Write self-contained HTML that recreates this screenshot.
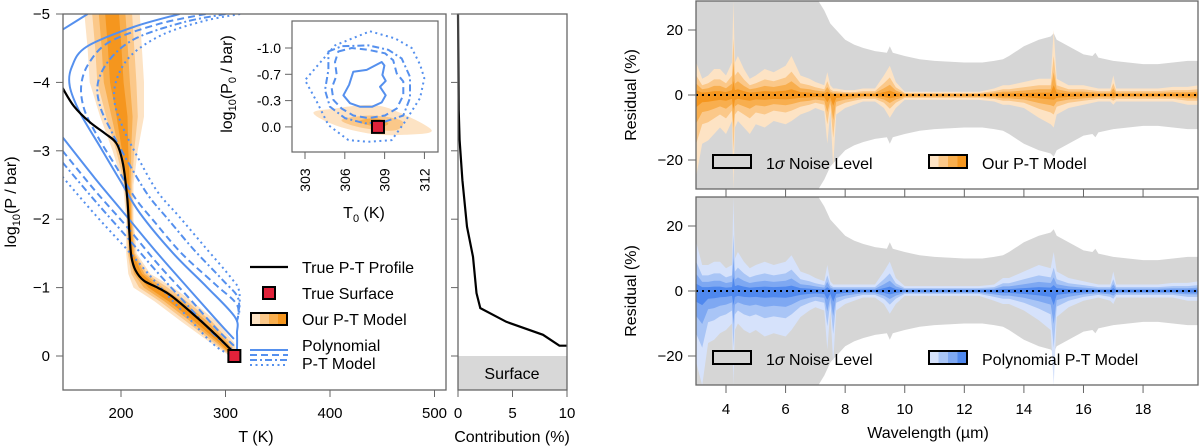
<!DOCTYPE html>
<html><head><meta charset="utf-8">
<style>
html,body{margin:0;padding:0;background:#fff;}
svg{display:block;font-family:"Liberation Sans",sans-serif;}
</style></head>
<body>
<svg id="fig" width="1200" height="448" viewBox="0 0 1200 448" xmlns="http://www.w3.org/2000/svg">
<defs>
<clipPath id="clipL"><rect x="63" y="14" width="383" height="376"/></clipPath>
<clipPath id="clipI"><rect x="292" y="21" width="146" height="131"/></clipPath>
<clipPath id="clipR1"><rect x="696" y="1" width="502" height="188"/></clipPath>
<clipPath id="clipR2"><rect x="696" y="197" width="502" height="188"/></clipPath>
</defs>
<g id="root"></g>
</svg>
<script>
// ---------- PT panel data ----------
const trueT = [144,155,170,185,196,202,206,208,210,214,222,235,248,270,290,308];
const trueP = [-3.92,-3.65,-3.42,-3.25,-3.1,-2.8,-2.3,-1.8,-1.45,-1.25,-1.1,-1.0,-0.88,-0.6,-0.32,-0.05];
const bandP  = [-5,-4.5,-4,-3.5,-3,-2.5,-2,-1.5,-1.2,-1,-0.8,-0.5,-0.2,0];
const bandLo = [165,168,170,180,192,202,205,205,207,212,232,258,285,304];
const bandHi = [218,220,222,222,216,212,212,215,228,250,268,292,308,312];
const solidC_T = [256,212,167,153,151,161,180,199,218,250,282,309,311,311];
const solidC_P = [-5,-4.81,-4.52,-4.23,-3.94,-3.55,-3.06,-2.57,-2.09,-1.5,-1.01,-0.57,-0.33,-0.1];
const dashedC_T = [281,235,190,170,162,165,178,196,214,230,258,290,311,311];
const dashedC_P = [-5,-4.85,-4.6,-4.3,-3.97,-3.6,-3.2,-2.75,-2.3,-2.0,-1.5,-1.05,-0.75,-0.5];
const dashdotC_T = [300,260,215,190,178,180,192,208,226,245,270,298,312,312];
const dashdotC_P = [-5,-4.88,-4.65,-4.35,-4.0,-3.65,-3.25,-2.8,-2.35,-2.0,-1.55,-1.1,-0.85,-0.55];
const dottedC_T = [314,280,240,210,196,194,203,218,235,255,280,305,313,313];
const dottedC_P = [-5,-4.9,-4.7,-4.4,-4.05,-3.7,-3.3,-2.85,-2.4,-2.05,-1.6,-1.15,-0.95,-0.6];
const lowT = [144,175,205,235,265,290,308];
const solidL_P = [-3.2,-2.6,-2.05,-1.5,-0.98,-0.55,-0.25];
const dashedL_P = [-3.0,-2.42,-1.9,-1.35,-0.85,-0.42,-0.15];
const dashdotL_P = [-2.83,-2.27,-1.75,-1.22,-0.72,-0.3,-0.08];
const dottedL_P = [-2.62,-2.07,-1.57,-1.05,-0.55,-0.15,0.0];
const topT = [144,168];
const topP = [-4.77,-5];
const surfT = 308.5, surfP = 0;
const ptXTicks = [200,300,400,500];
const ptYTicks = [-5,-4,-3,-2,-1,0];
// ---------- contribution ----------
const contribC = [0,0.06,0.15,0.4,0.83,1.38,1.7,2.05,4.43,7.8,9.3,10];
const contribP = [-5,-3.6,-3.16,-2.57,-1.89,-1.45,-0.92,-0.70,-0.50,-0.31,-0.15,-0.15];
const contribTicks = [0,5,10];
// ---------- inset ----------
const insXTicks = [303,306,309,312];
const insYTicks = [-1.0,-0.7,-0.3,0.0];
const insYLabels = ["-1.0","-0.7","-0.3","0.0"];
const cSolidT = [306.64,307.65,308.78,308.98,308.83,309.08,308.65,309.08,308.78,308.07,307.14,306.39,305.89,306.32];
const cSolidP = [-0.73,-0.75,-0.84,-0.80,-0.69,-0.60,-0.51,-0.38,-0.28,-0.23,-0.23,-0.27,-0.38,-0.54];
const cDashT = [305.51,306.52,307.77,309.03,309.65,309.91,310.41,310.41,309.91,309.03,307.77,306.64,305.76,305.14,305.01,305.39,305.26];
const cDashP = [-0.96,-1.0,-0.98,-0.94,-0.86,-0.71,-0.59,-0.38,-0.21,-0.13,-0.10,-0.13,-0.21,-0.31,-0.49,-0.69,-0.84];
const cDDT = [304.76,305.76,307.77,309.28,310.29,310.91,310.91,310.41,309.03,307.52,306.01,304.88,304.51,304.76];
const cDDP = [-0.96,-1.02,-1.03,-0.98,-0.88,-0.66,-0.34,-0.13,-0.06,-0.04,-0.10,-0.23,-0.46,-0.75];
const cDotT = [307.90,309.78,311.04,311.67,311.99,311.67,310.54,309.53,307.77,306.27,304.76,303.88,303.0,304.0,305.26];
const cDotP = [-1.19,-1.11,-1.0,-0.81,-0.64,-0.34,-0.06,0.15,0.17,0.15,-0.02,-0.29,-0.61,-0.81,-1.03];
const blob1T = [303.63,305.26,308.02,310.03,312.55,310.54,308.02,305.26];
const blob1P = [-0.16,-0.21,-0.25,-0.17,0.04,0.09,0.08,-0.02];
const blob2T = [305.76,308.02,310.29,309.78,307.27];
const blob2P = [-0.08,-0.13,-0.07,0.04,0.01];
const blob3T = [307.02,308.28,309.28,308.52];
const blob3P = [-0.06,-0.10,-0.04,0.0];
// ---------- residual panels ----------
const noiseW = [3.0,7.0,7.1,7.3,7.5,7.8,8.0,8.3,8.6,9.0,9.4,9.5,9.6,10.0,10.5,11,12,12.6,13.0,13.3,13.5,14.0,14.5,14.9,15.0,15.1,15.5,16.0,16.3,16.4,16.5,17,17.5,18,18.5,19,19.5,19.85];
const noiseUp = [35,35,29,26,22,19,17,15.5,14.5,13.5,13,15,13,12,11,10.5,10,10,10.5,11,12,15,17,18,19,17,15,12.5,12,13,11.5,10.5,10,9.5,9.5,10,10.5,10.5];
const resW = [3.0,3.2,3.4,3.6,3.8,4.0,4.2,4.25,4.3,4.4,4.6,4.8,5.0,5.3,5.6,6.0,6.2,6.5,6.8,7.0,7.3,7.4,7.5,7.6,7.7,8.0,8.3,8.6,9.0,9.3,9.5,9.7,10.0,10.5,11,12,12.5,13,13.3,13.5,14,14.5,14.9,15.0,15.1,15.5,16,16.5,16.9,17.0,17.1,17.5,18,18.5,19,19.5,19.85];
const ourUp = [10,5,6,8,8,6,10,29,10,12,8,5,6,8,7,9,12,6,5,4,3,7,3,2,2,1.5,1.5,2,2,6,9,4,1,1,1,1,1,2,3,3,4,5,5,20,5,3,3,2,2,6,2,2,2,2,2.5,2.5,3];
const ourDn = [-25,-15,-14,-12,-10,-12,-8,-29,-10,-8,-10,-12,-9,-10,-8,-9,-8,-6,-5,-4,-5,-15,-5,-22,-6,-4,-3,-2,-2,-4,-7,-4,-1.5,-1.5,-1.5,-1.5,-1.5,-2,-3,-3,-4,-7,-9,-10,-6,-4,-3,-2,-2,-3,-2,-2,-2,-2,-2,-3,-3];
const polyUp = [15,8,8,9,9,7,8,29,10,12,9,7,8,9,8,9,11,6,5,4,3,8,3,2,2,2,2,2,2,6,9,4,1.5,1.5,1.5,1.5,1.5,2,4,4,6,8,7,12,6,4,3,2,2,6,2,2,2,2,2.5,2.5,3];
const polyDn = [-22,-29,-16,-15,-13,-12,-10,-29,-12,-10,-12,-13,-12,-14,-13,-14,-12,-8,-6,-5,-6,-18,-6,-22,-6,-4,-3,-2,-2,-4,-7,-4,-1.5,-1.5,-1.5,-1.5,-1.5,-3,-4,-4,-6,-9,-12,-29,-8,-5,-3,-2,-3,-4,-2,-2,-2,-2,-2,-3,-3];
const wTicks = [4,6,8,10,12,14,16,18];
const rTicks = [20,0,-20];

const NS = "http://www.w3.org/2000/svg";
const root = document.getElementById("root");
function mk(tag, attrs, parent){const e=document.createElementNS(NS,tag);for(const k in attrs)e.setAttribute(k,attrs[k]);(parent||root).appendChild(e);return e;}
function txt(s, x, y, size, anchor, parent, rot){const t=mk("text",{x:x,y:y,"font-size":size,"text-anchor":anchor||"middle",fill:"#000"},parent);if(rot)t.setAttribute("transform",`rotate(${rot} ${x} ${y})`);t.textContent=s;return t;}

const xT = T => 121 + (T-200)*1.045;
const yP = p => 356 + p*68.4;
const xC = c => 458 + c*10.9;
const xI = T => 305 + (T-303)*13.27;
function yI(p){let u;if(p<=-0.7)u=(p+1)/0.3;else if(p<=-0.3)u=1+(p+0.7)/0.4;else u=2+(p+0.3)/0.3;return 48+u*26.3;}
const xW = w => 726 + (w-4)*29.79;
const yR1 = v => 95 - v*3.25;
const yR2 = v => 291 - v*3.25;
const BLUE = "#5590ee";

function pathXY(Ts,Ps,fx,fy,close){let d="";for(let i=0;i<Ts.length;i++)d+=(i?"L":"M")+fx(Ts[i]).toFixed(1)+","+fy(Ps[i]).toFixed(1);return d+(close?"Z":"");}
// Catmull-Rom smooth path
function smoothXY(Ts,Ps,fx,fy,close){
  const pts=Ts.map((t,i)=>[fx(t),fy(Ps[i])]);const n=pts.length;
  const get=i=>close?pts[(i+n)%n]:pts[Math.max(0,Math.min(n-1,i))];
  let d="M"+pts[0][0].toFixed(1)+","+pts[0][1].toFixed(1);
  const segs=close?n:n-1;
  for(let i=0;i<segs;i++){
    const p0=get(i-1),p1=get(i),p2=get(i+1),p3=get(i+2);
    const c1=[p1[0]+(p2[0]-p0[0])/6,p1[1]+(p2[1]-p0[1])/6];
    const c2=[p2[0]-(p3[0]-p1[0])/6,p2[1]-(p3[1]-p1[1])/6];
    d+=`C${c1[0].toFixed(1)},${c1[1].toFixed(1)} ${c2[0].toFixed(1)},${c2[1].toFixed(1)} ${p2[0].toFixed(1)},${p2[1].toFixed(1)}`;
  }
  return d+(close?"Z":"");
}

// ===== PT panel =====
const gL = mk("g",{"clip-path":"url(#clipL)"});


const orangeCols = ["#fde3c4","#fbc889","#f8ae4e","#f5961e"];
const fr = [1,0.72,0.48,0.25];
for(let k=0;k<4;k++){
  const lo=[],hi=[];
  for(let i=0;i<bandP.length;i++){const c=(bandLo[i]+bandHi[i])/2,h=(bandHi[i]-bandLo[i])/2;lo.push(c-h*fr[k]);hi.push(c+h*fr[k]);}
  const Ps=bandP.concat(bandP.slice().reverse());
  const Ts=lo.concat(hi.slice().reverse());
  const p=mk("path",{d:pathXY(Ts,Ps,xT,yP,true),fill:orangeCols[k],stroke:"none"},gL);
  
  
}
const styles = {solid:"none",dashed:"7,4",dashdot:"7,3,2,3",dotted:"2,3.5"};
const blueLines = [
 ["solid",solidC_T,solidC_P],["dashed",dashedC_T,dashedC_P],["dashdot",dashdotC_T,dashdotC_P],["dotted",dottedC_T,dottedC_P],
 ["solid",lowT,solidL_P],["dashed",lowT,dashedL_P],["dashdot",lowT,dashdotL_P],["dotted",lowT,dottedL_P],["solid",topT,topP]];
blueLines.forEach((L,i)=>{
  const p=mk("path",{d:smoothXY(L[1],L[2],xT,yP),fill:"none",stroke:BLUE,"stroke-width":2,"stroke-dasharray":styles[L[0]]},gL);
  
  
});
const tp=mk("path",{d:smoothXY(trueT,trueP,xT,yP),fill:"none",stroke:"#000","stroke-width":2.2},gL);


const sq=mk("rect",{x:xT(surfT)-6,y:yP(surfP)-6,width:12,height:12,fill:"#e0223a",stroke:"#000","stroke-width":2});


const fL=mk("rect",{x:63,y:14,width:383,height:376,fill:"none",stroke:"#666","stroke-width":1.3});


ptXTicks.forEach(t=>{mk("line",{x1:xT(t),x2:xT(t),y1:390,y2:397,stroke:"#666"});const e=txt(String(t),xT(t),418,15);});
ptYTicks.forEach(t=>{mk("line",{x1:56,x2:63,y1:yP(t),y2:yP(t),stroke:"#666"});const e=txt(t<0?"\u2212"+(-t):String(t),50,yP(t)+5,15,"end");});
let e1=txt("T (K)",256,442,16);
{const t=mk("text",{x:16,y:202,"font-size":16,"text-anchor":"middle",transform:"rotate(-90 16 202)"});t.innerHTML='log<tspan font-size="11" dy="4">10</tspan><tspan dy="-4">(P / bar)</tspan>';}

const gLeg=mk("g",{});


mk("line",{x1:250,x2:288,y1:267,y2:267,stroke:"#000","stroke-width":2.2},gLeg);
txt("True P-T Profile",302,273,16,"start",gLeg);
mk("rect",{x:263,y:287,width:12,height:12,fill:"#e0223a",stroke:"#000","stroke-width":2},gLeg);
txt("True Surface",302,299,16,"start",gLeg);
["#fde3c4","#fbc889","#f8ae4e","#f5961e"].forEach((c,i)=>mk("rect",{x:251+i*9,y:313,width:9,height:12,fill:c},gLeg));
mk("rect",{x:251,y:313,width:36,height:12,fill:"none",stroke:"#000","stroke-width":2},gLeg);
txt("Our P-T Model",302,325,16,"start",gLeg);
["solid","dashed","dashdot","dotted"].forEach((s,i)=>mk("line",{x1:250,x2:288,y1:350+i*5,y2:350+i*5,stroke:BLUE,"stroke-width":2,"stroke-dasharray":styles[s]},gLeg));
txt("Polynomial",302,351,16,"start",gLeg);
txt("P-T Model",302,369,16,"start",gLeg);

// ===== Inset =====
const gI=mk("g",{});


mk("rect",{x:292,y:21,width:146,height:131,fill:"#fff",stroke:"#666","stroke-width":1.2},gI);
const gIc=mk("g",{"clip-path":"url(#clipI)"},gI);
[[blob1T,blob1P,"#fde3c4"],[blob2T,blob2P,"#fbc889"],[blob3T,blob3P,"#f8ae4e"]].forEach(b=>{const p=mk("path",{d:smoothXY(b[0],b[1],xI,yI,true),fill:b[2]},gIc);});
[["solid",cSolidT,cSolidP],["dashed",cDashT,cDashP],["dashdot",cDDT,cDDP],["dotted",cDotT,cDotP]].forEach(L=>{
  const p=mk("path",{d:pathXY(L[1],L[2],xI,yI,true),fill:"none",stroke:BLUE,"stroke-width":2,"stroke-dasharray":styles[L[0]],"stroke-linejoin":"round"},gIc);
  
  
});
const sqI=mk("rect",{x:xI(308.5)-6,y:yI(0)-6,width:12,height:12,fill:"#e0223a",stroke:"#000","stroke-width":2},gI);


insXTicks.forEach(t=>{mk("line",{x1:xI(t),x2:xI(t),y1:152,y2:159,stroke:"#666"},gI);txt(String(t),xI(t)+5,180,14,"middle",gI,-90);});
insYTicks.forEach((t,i)=>{mk("line",{x1:285,x2:292,y1:yI(t),y2:yI(t),stroke:"#666"},gI);txt(insYLabels[i],281,yI(t)+5,14,"end",gI);});
{const t=mk("text",{x:364,y:218,"font-size":16,"text-anchor":"middle"},gI);t.innerHTML='T<tspan font-size="11" dy="4">0</tspan><tspan dy="-4"> (K)</tspan>';}
{const t=mk("text",{x:232,y:84,"font-size":16,"text-anchor":"middle",transform:"rotate(-90 232 84)"},gI);t.innerHTML='log<tspan font-size="11" dy="4">10</tspan><tspan dy="-4">(P</tspan><tspan font-size="11" dy="4">0</tspan><tspan dy="-4"> / bar)</tspan>';}

// ===== Contribution panel =====
const gC=mk("g",{});


const sr=mk("rect",{x:458,y:yP(0),width:109,height:390-yP(0),fill:"#d8d8d8"},gC);


txt("Surface",512,379,16,"middle",gC);
const cl=mk("path",{d:pathXY(contribC,contribP,xC,yP),fill:"none",stroke:"#000","stroke-width":2.2},gC);


mk("rect",{x:458,y:14,width:109,height:376,fill:"none",stroke:"#666","stroke-width":1.3},gC);
ptYTicks.forEach(t=>mk("line",{x1:451,x2:458,y1:yP(t),y2:yP(t),stroke:"#666"},gC));
contribTicks.forEach(t=>{mk("line",{x1:xC(t),x2:xC(t),y1:390,y2:397,stroke:"#666"},gC);txt(String(t),xC(t),418,15,"middle",gC);});
txt("Contribution (%)",512,442,16,"middle",gC);

// ===== Residual panels =====
function resPanel(yfun, clip, y0, up, dn, cols, name, legendText){
  const g=mk("g",{});
  
  
  const gc=mk("g",{"clip-path":`url(#${clip})`},g);
  const nUp=noiseUp, nDn=noiseUp.map(v=>-v);
  const n=mk("path",{d:pathXY(noiseW.concat(noiseW.slice().reverse()),nUp.concat(nDn.slice().reverse()),xW,yfun,true),fill:"#d6d6d6"},gc);
  
  
  const f=[1,0.6,0.35,0.15];
  for(let k=0;k<4;k++){
    const u=up.map(v=>v*f[k]), d=dn.map(v=>v*f[k]);
    const p=mk("path",{d:pathXY(resW.concat(resW.slice().reverse()),u.concat(d.slice().reverse()),xW,yfun,true),fill:cols[k]},gc);
    
    
  }
  const z=mk("line",{x1:696,x2:1198,y1:yfun(0),y2:yfun(0),stroke:"#000","stroke-width":2,"stroke-dasharray":"2,4"},g);
  
  
  mk("rect",{x:696,y:y0,width:502,height:188,fill:"none",stroke:"#666","stroke-width":1.3},g);
  rTicks.forEach(t=>{mk("line",{x1:688,x2:696,y1:yfun(t),y2:yfun(t),stroke:"#666"},g);txt(t<0?"\u2212"+(-t):String(t),683,yfun(t)+5,15,"end",g);});
  wTicks.forEach(t=>mk("line",{x1:xW(t),x2:xW(t),y1:y0+188,y2:y0+196,stroke:"#666"},g));
  txt("Residual (%)",636,y0+94,16,"middle",g,-90);
  const lg=mk("g",{},g);
  
  
  mk("rect",{x:713,y:y0+154,width:38,height:13,fill:"#d6d6d6",stroke:"#000","stroke-width":2},lg);
  const t1=mk("text",{x:766,y:y0+168,"font-size":16},lg);t1.innerHTML='1<tspan font-style="italic">σ</tspan> Noise Level';
  cols.forEach((c,i)=>mk("rect",{x:929+i*9.5,y:y0+154,width:9.5,height:13,fill:c},lg));
  mk("rect",{x:929,y:y0+154,width:38,height:13,fill:"none",stroke:"#000","stroke-width":2},lg);
  txt(legendText,982,y0+168,16,"start",lg);
}
resPanel(yR1,"clipR1",1,ourUp,ourDn,["#fde3c4","#fbc889","#f8ae4e","#f5961e"],"residual-panel-our-model","Our P-T Model");
resPanel(yR2,"clipR2",197,polyUp,polyDn,["#d6e2fb","#a9c5f6","#7ea8f2","#4f88ee"],"residual-panel-polynomial","Polynomial P-T Model");
wTicks.forEach(t=>{const e=txt(String(t),xW(t),414,15);});
{const e=txt("Wavelength (\u00b5m)",928,438,16);}
</script>
</body></html>
